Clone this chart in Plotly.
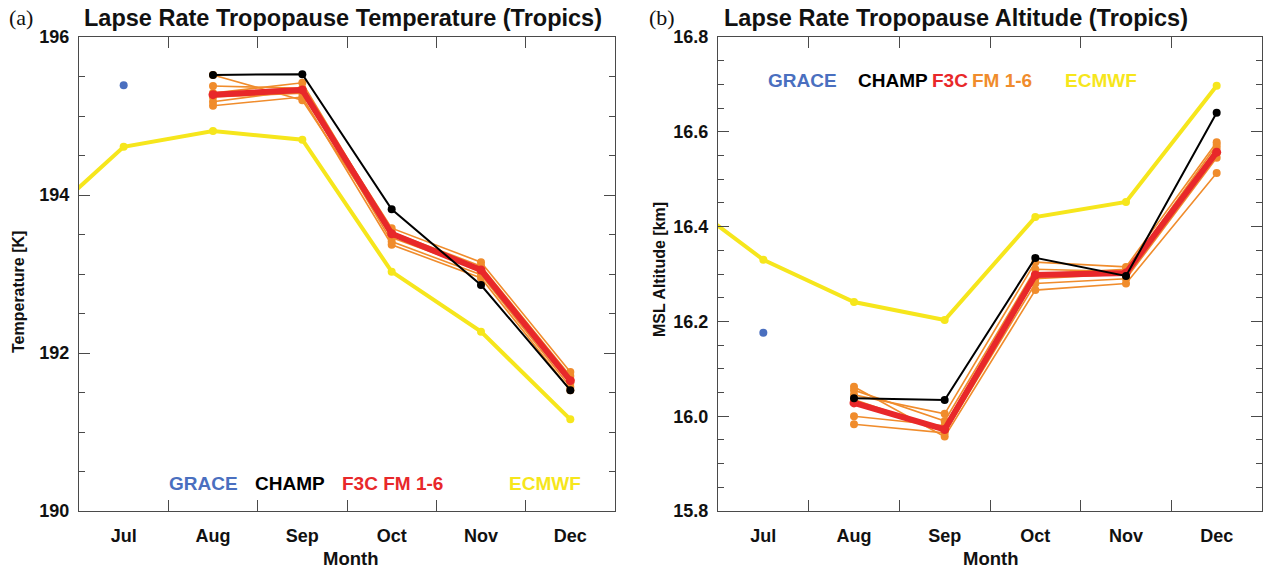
import plotly.graph_objects as go

# ---- data -------------------------------------------------------------
months = ["Jun", "Jul", "Aug", "Sep", "Oct", "Nov", "Dec"]
month_num = {m: i + 6 for i, m in enumerate(months)}

# Panel (a): tropopause temperature [K]
grace_t_months = ["Jul"]
grace_t = [195.39]

ecmwf_t_months = ["Jun", "Jul", "Aug", "Sep", "Oct", "Nov", "Dec"]
ecmwf_t = [193.58, 194.61, 194.81, 194.70, 193.03, 192.27, 191.16]

cosmic_months = ["Aug", "Sep", "Oct", "Nov", "Dec"]
champ_t = [195.52, 195.53, 193.82, 192.86, 191.53]
f3c_t = [195.27, 195.33, 193.51, 193.05, 191.65]
fm1_t = [195.52, 195.20, 193.49, 193.03, 191.62]
fm2_t = [195.38, 195.35, 193.58, 193.15, 191.76]
fm3_t = [195.29, 195.42, 193.53, 193.10, 191.71]
fm4_t = [195.24, 195.29, 193.46, 193.05, 191.66]
fm5_t = [195.18, 195.33, 193.41, 192.99, 191.57]
fm6_t = [195.13, 195.24, 193.37, 192.95, 191.53]

# Panel (b): tropopause altitude [km]
grace_z_months = ["Jul"]
grace_z = [16.176]

ecmwf_z_months = ["Jun", "Jul", "Aug", "Sep", "Oct", "Nov", "Dec"]
ecmwf_z = [16.474, 16.330, 16.241, 16.203, 16.420, 16.452, 16.697]

champ_z = [16.038, 16.034, 16.334, 16.296, 16.640]
f3c_z = [16.028, 15.972, 16.298, 16.302, 16.557]
fm1_z = [16.062, 15.957, 16.266, 16.280, 16.513]
fm2_z = [16.055, 15.990, 16.310, 16.305, 16.572]
fm3_z = [16.045, 16.005, 16.325, 16.315, 16.578]
fm4_z = [16.035, 15.970, 16.290, 16.300, 16.566]
fm5_z = [16.000, 15.980, 16.300, 16.310, 16.555]
fm6_z = [15.983, 15.965, 16.280, 16.290, 16.545]

tick_months = ["Jul", "Aug", "Sep", "Oct", "Nov", "Dec"]

# ---- styling ----------------------------------------------------------
BLUE = "#4a6fbf"
BLACK = "#000000"
RED = "#e8282a"
ORANGE = "#f08c2c"
YELLOW = "#f6e61c"
AXIS = "#4a4a4a"
SANS = "Liberation Sans"

W, H = 1268, 571


def px(x):
    return x / W


def py(y):
    return 1 - y / H


def xs(labels):
    return [month_num[m] for m in labels]


fig = go.Figure()


def add_panel(xa, ya, ecm_m, ecm, fms, f3c, champ, gr_m, gr):
    fig.add_trace(go.Scatter(x=xs(ecm_m), y=ecm, mode="lines+markers",
                             line=dict(color=YELLOW, width=4),
                             marker=dict(color=YELLOW, size=8),
                             xaxis=xa, yaxis=ya, showlegend=False))
    for fm in fms:
        fig.add_trace(go.Scatter(x=xs(cosmic_months), y=fm, mode="lines+markers",
                                 line=dict(color=ORANGE, width=1.6),
                                 marker=dict(color=ORANGE, size=8),
                                 xaxis=xa, yaxis=ya, showlegend=False))
    fig.add_trace(go.Scatter(x=xs(cosmic_months), y=f3c, mode="lines+markers",
                             line=dict(color=RED, width=6),
                             marker=dict(color=RED, size=9),
                             xaxis=xa, yaxis=ya, showlegend=False))
    fig.add_trace(go.Scatter(x=xs(cosmic_months), y=champ, mode="lines+markers",
                             line=dict(color=BLACK, width=2),
                             marker=dict(color=BLACK, size=8),
                             xaxis=xa, yaxis=ya, showlegend=False))
    fig.add_trace(go.Scatter(x=xs(gr_m), y=gr, mode="markers",
                             marker=dict(color=BLUE, size=8),
                             xaxis=xa, yaxis=ya, showlegend=False))


add_panel("x", "y", ecmwf_t_months, ecmwf_t,
          [fm1_t, fm2_t, fm3_t, fm4_t, fm5_t, fm6_t], f3c_t, champ_t,
          grace_t_months, grace_t)
add_panel("x2", "y2", ecmwf_z_months, ecmwf_z,
          [fm1_z, fm2_z, fm3_z, fm4_z, fm5_z, fm6_z], f3c_z, champ_z,
          grace_z_months, grace_z)

ydom = [py(511), py(37)]
tickfont = dict(family=SANS, size=18, color="#111111", weight="bold")

xcommon = dict(
    range=[6.5, 12.5], tickvals=xs(tick_months), ticktext=tick_months,
    ticks="", showgrid=False, zeroline=False, automargin=False,
    showline=True, linecolor=AXIS, linewidth=1.3, mirror="ticks",
    tickfont=tickfont, ticklabelstandoff=8,
    minor=dict(tickvals=[7.5, 8.5, 9.5, 10.5, 11.5], ticks="inside",
               ticklen=11, tickcolor=AXIS, tickwidth=1.2, showgrid=False),
)
ycommon = dict(
    showgrid=False, zeroline=False, showline=True, linecolor=AXIS,
    linewidth=1.3, mirror="ticks", ticks="inside", ticklen=11,
    tickcolor=AXIS, tickwidth=1.2, tickfont=tickfont, ticklabelstandoff=5,
    automargin=False,
)

fig.update_layout(
    width=W, height=H,
    margin=dict(l=0, r=0, t=0, b=0, pad=0),
    paper_bgcolor="white", plot_bgcolor="white",
    xaxis=dict(domain=[px(79), px(615)], anchor="y", **xcommon),
    xaxis2=dict(domain=[px(718), px(1262)], anchor="y2", **xcommon),
    yaxis=dict(domain=ydom, anchor="x", range=[190, 196],
               tickvals=[190, 192, 194, 196],
               minor=dict(dtick=0.5, tick0=190, ticks="inside", ticklen=6,
                          tickcolor=AXIS, tickwidth=1.2, showgrid=False),
               **ycommon),
    yaxis2=dict(domain=ydom, anchor="x2", range=[15.8, 16.8],
                tickvals=[15.8, 16.0, 16.2, 16.4, 16.6, 16.8],
                tickformat=".1f",
                minor=dict(dtick=0.05, tick0=15.8, ticks="inside", ticklen=6,
                           tickcolor=AXIS, tickwidth=1.2, showgrid=False),
                **ycommon),
)


def text(x, y, s, color="#111111", size=17, family=SANS, bold=True,
         xanchor="center", angle=0):
    fig.add_annotation(x=px(x), y=py(y), xref="paper", yref="paper",
                       text=f"<b>{s}</b>" if bold else s, showarrow=False,
                       font=dict(family=family, size=size, color=color),
                       xanchor=xanchor, yanchor="middle", textangle=angle)


# panel labels and titles
text(7, 18, "(a)", size=22, family="Liberation Serif", bold=False, xanchor="left")
text(647, 18, "(b)", size=22, family="Liberation Serif", bold=False, xanchor="left")
text(82, 18, "Lapse Rate Tropopause Temperature (Tropics)", size=23.5, xanchor="left")
text(722, 18, "Lapse Rate Tropopause Altitude (Tropics)", size=23.5, xanchor="left")

# axis titles
text(350, 558, "Month", size=18.5)
text(990, 558, "Month", size=18.5)
text(18, 292, "Temperature [K]", size=16, angle=-90)
text(660, 270, "MSL Altitude [km]", size=16, angle=-90)

# in-plot labels, panel (a)
text(203, 483, "GRACE", color=BLUE, size=19)
text(290, 483, "CHAMP", color=BLACK, size=19)
text(392, 483, "F3C FM 1-6", color=RED, size=19)
text(545, 483, "ECMWF", color=YELLOW, size=19)

# in-plot labels, panel (b)
text(803, 80, "GRACE", color=BLUE, size=19)
text(893, 80, "CHAMP", color=BLACK, size=19)
text(950, 80, "F3C", color=RED, size=19)
text(1002, 80, "FM 1-6", color=ORANGE, size=19)
text(1101, 80, "ECMWF", color=YELLOW, size=19)

fig.write_html("out.html")
